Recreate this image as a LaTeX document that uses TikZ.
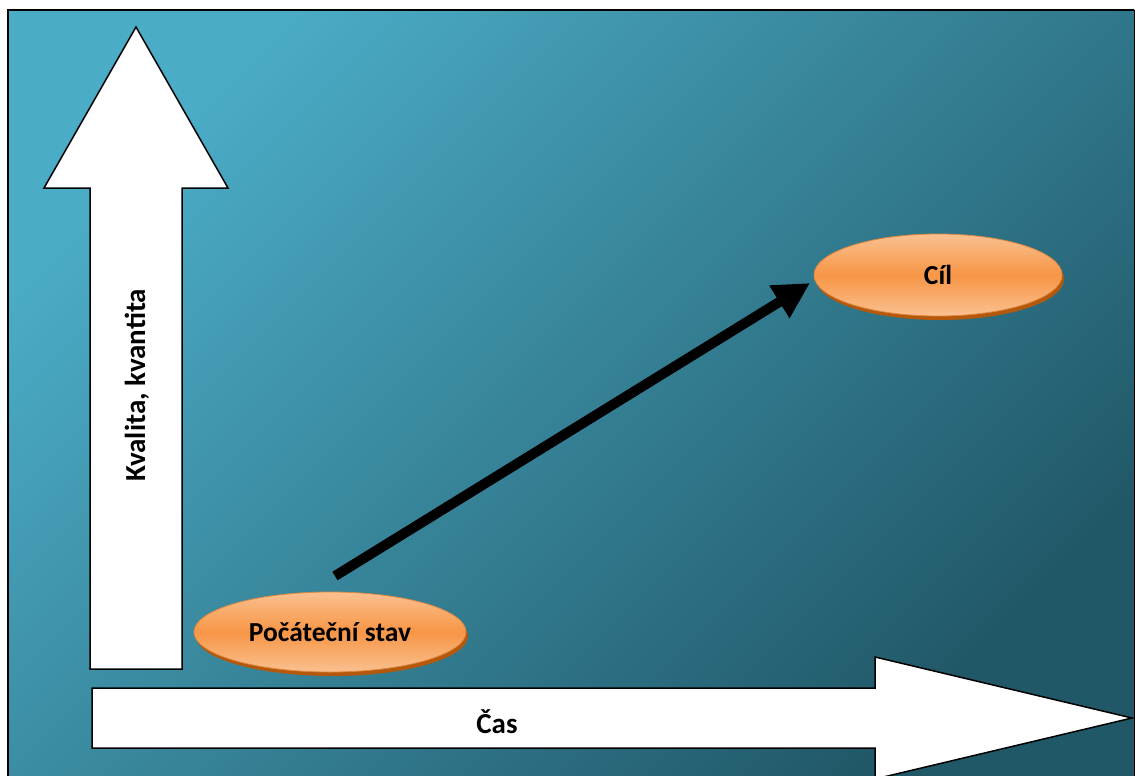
\documentclass[tikz,border=0pt]{standalone}
\usepackage{fontspec}
\setmainfont{Carlito}
\usetikzlibrary{arrows.meta,shapes.geometric}
\definecolor{panelTop}{RGB}{75,172,198}
\definecolor{panelBot}{RGB}{33,88,104}
\definecolor{ovalMid}{RGB}{247,150,70}
\definecolor{ovalEdge}{RGB}{250,192,144}
\definecolor{ovalShade}{RGB}{180,88,12}
\tikzset{
  axisarrow/.style={fill=white, draw=black, line width=1.5pt, line join=miter},
  goal/.style={ellipse, minimum width=248pt, minimum height=82pt, inner sep=0pt,
    top color=ovalEdge, bottom color=ovalEdge, middle color=ovalMid,
    draw=ovalMid!90!black, line width=0.8pt, font=\bfseries\fontsize{27.5}{30}\selectfont},
  label/.style={font=\bfseries\fontsize{29}{32}\selectfont}
}
\begin{document}
\begin{tikzpicture}[x=1pt,y=-1pt]
		\useasboundingbox (0,0) rectangle (1135,776);
		% background panel
		\shade[top color=panelTop, bottom color=panelBot, shading angle=45] (8,10) rectangle (1134,776);
		\draw[line width=2.5pt] (8,776) -- (8,10) -- (1134,10);
		\draw[line width=1pt] (1134,10) -- (1134,776);
		
		% axes
		\draw[axisarrow] (90,669) -- (90,188) -- (44,188) -- (136,27) -- (228,188) -- (182,188) -- (182,669) -- cycle;
		\draw[axisarrow] (92,688) -- (875,688) -- (875,657) -- (1132,718) -- (875,779) -- (875,748) -- (92,748) -- cycle;
		\node[label, rotate=90] (Q) at (137,385) {Kvalita, kvantita};
		\node[label] (T) at (497,722) {Čas};
		
		% states
		\fill[ovalShade] (332,636) ellipse (136pt and 40pt);
		\node[goal, minimum width=272pt, minimum height=80pt] (S) at (330,632) {Počáteční stav};
		\fill[ovalShade] (940,279) ellipse (124pt and 41pt);
		\node[goal] (C) at (938,275) {Cíl};
		
		\coordinate (s0) at (335,576);
		\coordinate (c0) at (810,283);
		\draw[-{Triangle[length=36pt,width=36pt]}, line width=10pt] (s0) -- (c0);
		\end{tikzpicture}
\end{document}
